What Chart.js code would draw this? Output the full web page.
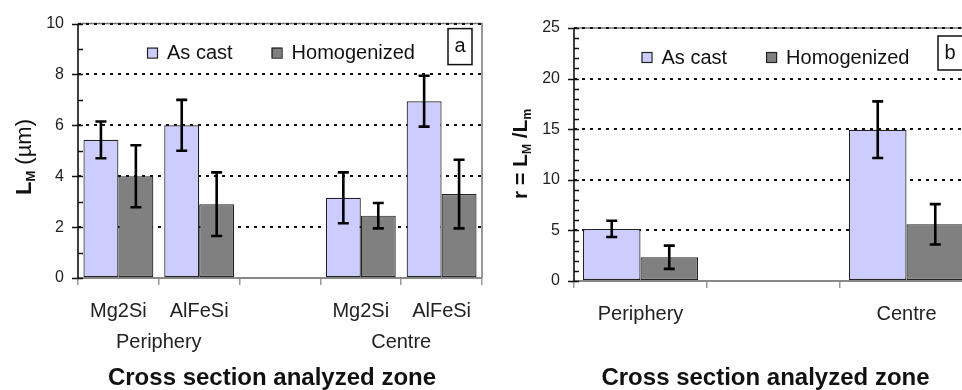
<!DOCTYPE html>
<html>
<head>
<meta charset="utf-8">
<script src="https://cdn.jsdelivr.net/npm/chart.js@4.4.1/dist/chart.umd.min.js"></script>
<style>
html, body { margin:0; padding:0; background:#fff; overflow:hidden; width:962px; height:390px; }
#wrapA { position:absolute; left:0; top:0; }
#wrapB { position:absolute; left:490px; top:0; }
</style>
</head>
<body>
<div id="wrapA"><canvas id="chartA" width="486" height="390"></canvas></div>
<div id="wrapB"><canvas id="chartB" width="490" height="390"></canvas></div>
<script>
// panel a : L_M per phase and zone
var categoriesA = ['Mg2Si', 'AlFeSi', '', 'Mg2Si', 'AlFeSi']
var zonesA = ['Periphery', 'Centre']
var zoneCatsA = [[0, 1], [3, 4]]
var asCastA = [5.43, 6.0, null, 3.15, 6.95]
var asCastErrA = [0.72, 1.0, null, 1.0, 1.0]
var homogA = [4.0, 2.9, null, 2.45, 3.3]
var homogErrA = [1.22, 1.25, null, 0.5, 1.35]
var ticksA = [0, 2, 4, 6, 8, 10]

// panel b : r = L_M / L_m
var categoriesB = ['Periphery', '', 'Centre']
var asCastB = [5.15, null, 14.95]
var asCastErrB = [0.8, null, 2.8]
var homogB = [2.35, null, 5.6]
var homogErrB = [1.15, null, 2.0]
var ticksB = [0, 5, 10, 15, 20, 25]

var seriesNames = ['As cast', 'Homogenized']
var seriesColors = ['#ccccff', '#808080']
var xTitle = 'Cross section analyzed zone'

var FONT = "'Liberation Sans', Arial, sans-serif"
Chart.defaults.font.family = FONT
Chart.defaults.color = '#222'

function drawRich(ctx, parts, x, y, rotate) {
    ctx.save()
    ctx.translate(x, y)
    if (rotate) ctx.rotate(-Math.PI / 2)
    var w = 0
    parts.forEach(function (p) { ctx.font = p[1]; w += ctx.measureText(p[0]).width })
    var cx = -w / 2
    ctx.textBaseline = 'alphabetic'
    ctx.textAlign = 'left'
    ctx.fillStyle = '#111'
    parts.forEach(function (p) {
        ctx.font = p[1]
        ctx.fillText(p[0], cx, 7 + (p[2] || 0))
        cx += ctx.measureText(p[0]).width
    })
    ctx.restore()
}

var decor = {
    id: 'decor',
    beforeDraw: function (chart, args, o) {
        var a = chart.chartArea, ctx = chart.ctx
        ctx.save()
        ctx.strokeStyle = '#777'
        ctx.lineWidth = 1.5
        ctx.beginPath()
        ctx.moveTo(a.left, a.top)
        ctx.lineTo(a.right, a.top)
        ctx.lineTo(a.right, a.bottom)
        ctx.stroke()
        ctx.restore()
    },
    afterDatasetsDraw: function (chart, args, o) {
        var ctx = chart.ctx, ys = chart.scales.y, a = chart.chartArea
        // error bars
        chart.data.datasets.forEach(function (ds, i) {
            chart.getDatasetMeta(i).data.forEach(function (bar, j) {
                var v = ds.data[j], e = ds.errors[j]
                if (v == null || e == null) return
                var top = ys.getPixelForValue(v + e), bot = ys.getPixelForValue(v - e)
                ctx.save()
                ctx.strokeStyle = '#000'
                ctx.lineWidth = 2.6
                ctx.beginPath()
                ctx.moveTo(bar.x, top); ctx.lineTo(bar.x, bot)
                ctx.moveTo(bar.x - o.cap, top); ctx.lineTo(bar.x + o.cap, top)
                ctx.moveTo(bar.x - o.cap, bot); ctx.lineTo(bar.x + o.cap, bot)
                ctx.stroke()
                ctx.restore()
            })
        })
        ctx.save()
        // x axis line
        ctx.strokeStyle = '#888'
        ctx.lineWidth = 2
        ctx.beginPath()
        ctx.moveTo(a.left, a.bottom); ctx.lineTo(a.right, a.bottom)
        ctx.stroke()
        // y axis line + ticks
        ctx.strokeStyle = '#111'
        ctx.lineWidth = 1.6
        ctx.beginPath()
        ctx.moveTo(a.left, a.top); ctx.lineTo(a.left, a.bottom + 1)
        ys.ticks.forEach(function (t) {
            var py = Math.round(ys.getPixelForValue(t.value)) + 0.5
            var major = o.major.indexOf(t.value) >= 0
            ctx.moveTo(major ? a.left - 6 : a.left, py)
            ctx.lineTo(a.left + 5, py)
        })
        ctx.stroke()
        ctx.restore()
    },
    afterDraw: function (chart, args, o) {
        var ctx = chart.ctx, a = chart.chartArea, xs = chart.scales.x
        ctx.save()
        // legend
        ctx.font = '20px ' + FONT
        var items = chart.data.datasets.map(function (ds) {
            return { text: ds.label, color: ds.backgroundColor, w: 20 + ctx.measureText(ds.label).width }
        })
        var total = items.reduce(function (s, it) { return s + it.w }, 0) + o.legendGap * (items.length - 1)
        var lx = (a.left + a.right) / 2 + o.legendShift - total / 2
        var ly = a.top + 29
        items.forEach(function (it) {
            ctx.fillStyle = it.color
            ctx.fillRect(lx, ly - 5, 10, 10)
            ctx.strokeStyle = '#222'
            ctx.lineWidth = 1.2
            ctx.strokeRect(lx + 0.5, ly - 4.5, 10, 10)
            ctx.fillStyle = '#111'
            ctx.textBaseline = 'middle'
            ctx.textAlign = 'left'
            ctx.fillText(it.text, lx + 20, ly + 1)
            lx += it.w + o.legendGap
        })
        // panel letter box
        var b = o.box
        ctx.fillStyle = '#fff'
        ctx.fillRect(a.right - b.dx, a.top + b.dy, b.w, b.h)
        ctx.strokeStyle = '#111'
        ctx.lineWidth = 1.5
        ctx.strokeRect(a.right - b.dx, a.top + b.dy, b.w, b.h)
        ctx.fillStyle = '#111'
        ctx.textAlign = 'center'
        ctx.textBaseline = 'middle'
        ctx.font = '20px ' + FONT
        ctx.fillText(o.letter, a.right - b.dx + 12, a.top + b.dy + b.h / 2)
        // zone labels under paired categories
        if (o.zones) {
            ctx.font = '20px ' + FONT
            ctx.fillStyle = '#222'
            o.zones.forEach(function (z, k) {
                var c = o.zoneCats[k]
                var zx = (xs.getPixelForValue(c[0]) + xs.getPixelForValue(c[1])) / 2
                ctx.fillText(z, zx, o.zoneY)
            })
        }
        // x title
        ctx.font = 'bold 24px ' + FONT
        ctx.fillStyle = '#111'
        ctx.fillText(xTitle, (a.left + a.right) / 2 + o.titleShift, 378)
        ctx.restore()
        // y title
        drawRich(ctx, o.yTitle, o.yTitleX, o.yTitleY, true)
    }
}

function makeChart(id, cats, ac, acErr, ho, hoErr, max, majors, yWidth, xHeight, pad, extra) {
    return new Chart(document.getElementById(id), {
        type: 'bar',
        data: {
            labels: cats,
            datasets: [
                { label: seriesNames[0], data: ac, errors: acErr, backgroundColor: seriesColors[0],
                  borderColor: '#222', borderWidth: 1.2, borderSkipped: false },
                { label: seriesNames[1], data: ho, errors: hoErr, backgroundColor: seriesColors[1],
                  borderColor: '#222', borderWidth: 1.2, borderSkipped: false }
            ]
        },
        options: {
            responsive: false,
            animation: false,
            layout: { padding: pad },
            datasets: { bar: { categoryPercentage: 0.865, barPercentage: 1 } },
            plugins: {
                legend: { display: false },
                tooltip: { enabled: false },
                decor: extra
            },
            scales: {
                x: {
                    grid: { offset: true, drawOnChartArea: false, drawTicks: true, tickLength: 7,
                            color: '#999', tickColor: '#999', lineWidth: 1.5 },
                    border: { display: false },
                    ticks: { font: { size: 20 }, color: '#222', padding: 14, autoSkip: false, maxRotation: 0 },
                    afterFit: function (s) { s.height = xHeight }
                },
                y: {
                    min: 0, max: max,
                    ticks: { stepSize: 1, autoSkip: false, padding: 14, font: { size: 16 }, color: '#222',
                             callback: function (v) { return majors.indexOf(v) >= 0 ? v : '' } },
                    grid: { drawTicks: false, lineWidth: 2,
                            color: function (c) {
                                return c.tick && c.tick.value > 0 && majors.indexOf(c.tick.value) >= 0 ? '#111' : 'rgba(0,0,0,0)'
                            } },
                    border: { display: false, dash: [3, 5] },
                    afterFit: function (s) { s.width = yWidth }
                }
            }
        },
        plugins: [decor]
    })
}

makeChart('chartA', categoriesA, asCastA, asCastErrA, homogA, homogErrA, 10, ticksA, 78, 112,
    { top: 22, right: 4, left: 0, bottom: 0 },
    { cap: 5.5, major: ticksA, legendGap: 39, legendShift: 1, letter: 'a',
      box: { dx: 34, dy: 5, w: 24, h: 36 },
      zones: zonesA, zoneCats: zoneCatsA, zoneY: 342, titleShift: -8,
      yTitle: [['L', 'bold 22px ' + FONT], ['M', 'bold 13px ' + FONT, 4], [' (\u00b5m)', '22px ' + FONT]],
      yTitleX: 24, yTitleY: 157 })

makeChart('chartB', categoriesB, asCastB, asCastErrB, homogB, homogErrB, 25, ticksB, 84, 109,
    { top: 28, right: 7, left: 0, bottom: 0 },
    { cap: 5.5, major: ticksB, legendGap: 39, legendShift: 2, letter: 'b',
      box: { dx: 35, dy: 8, w: 26, h: 34 },
      zones: null, titleShift: -8,
      yTitle: [['r = L', 'bold 21px ' + FONT], ['M', 'bold 12px ' + FONT, 4], [' /L', 'bold 21px ' + FONT], ['m', 'bold 12px ' + FONT, 4]],
      yTitleX: 30, yTitleY: 154 })
</script>
</body>
</html>
